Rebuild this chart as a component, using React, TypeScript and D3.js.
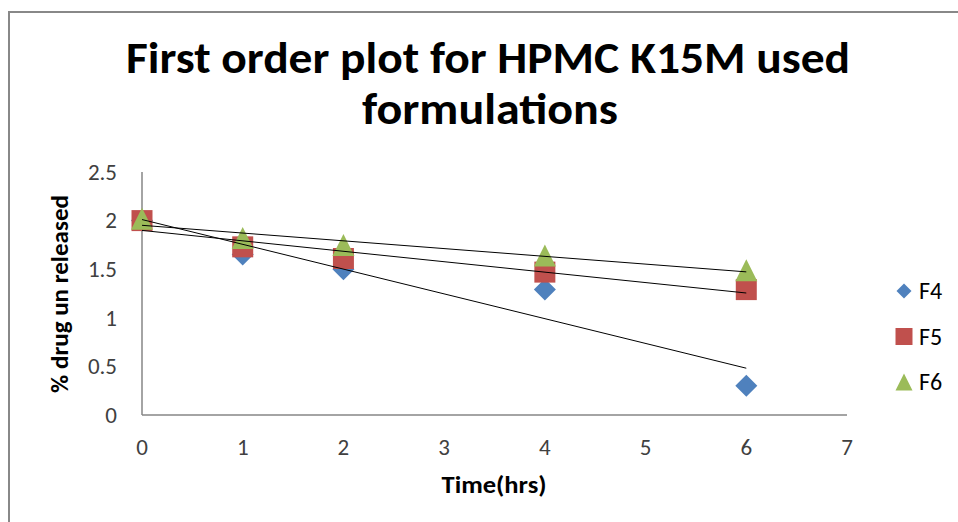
import React from "react";
import * as d3 from "d3";

const times = [0, 1, 2, 4, 6];
const seriesNames = ["F4", "F5", "F6"];
const f4Values = [2.0, 1.65, 1.5, 1.29, 0.3];
const f5Values = [2.0, 1.73, 1.61, 1.47, 1.29];
const f6Values = [2.02, 1.82, 1.75, 1.64, 1.49];
const xTicks = [0, 1, 2, 3, 4, 5, 6, 7];
const yTicks = [0, 0.5, 1, 1.5, 2, 2.5];
const titleLines = ["First order plot for HPMC K15M used", "formulations"];
const xTitle = "Time(hrs)";
const yTitle = "% drug un released";

const colors = ["#4F81BD", "#C0504D", "#9BBB59"];

const W = 958;
const H = 522;
const plot = { left: 142, right: 847, top: 172, bottom: 415 };

// least-squares linear fit, as used for the trendlines
function linearFit(xs: number[], ys: number[]) {
  const mx = d3.mean(xs)!;
  const my = d3.mean(ys)!;
  let sxy = 0;
  let sxx = 0;
  xs.forEach((x, i) => {
    sxy += (x - mx) * (ys[i] - my);
    sxx += (x - mx) * (x - mx);
  });
  const slope = sxy / sxx;
  return { slope, intercept: my - slope * mx };
}

// marker outline for series i with the given width (px)
function markerPath(i: number, w: number) {
  const h = w / 2;
  if (i === 0) return `M0,${-h}L${h},0L0,${h}L${-h},0Z`;
  if (i === 1) return `M${-h},${-h}H${h}V${h}H${-h}Z`;
  return `M0,${-h}L${h},${h}H${-h}Z`;
}

export default function App() {
  const x = d3.scaleLinear().domain([0, 7]).range([plot.left, plot.right]);
  const y = d3.scaleLinear().domain([0, 2.5]).range([plot.bottom, plot.top]);
  const allSeries = [f4Values, f5Values, f6Values];
  const font = "Carlito, 'Open Sans', 'Liberation Sans', sans-serif";

  const markerSize = [22, 21, 22];
  const legendSize = [15, 17, 17];

  return (
    <svg
      width={W}
      height={H}
      style={{ position: "absolute", left: 0, top: 0, background: "#fff" }}
      fontFamily={font}
    >
      <rect x={0} y={0} width={W} height={H} fill="#fff" />
      {/* chart frame */}
      <path d={`M9,${H + 5} V12 H${W + 5}`} fill="none" stroke="#888" strokeWidth={2} />

      {/* title */}
      <text x={488} y={73} textAnchor="middle" fontWeight="bold" fontSize={44} fill="#000"
        textLength={724} lengthAdjust="spacingAndGlyphs">
        {titleLines[0]}
      </text>
      <text x={490} y={124} textAnchor="middle" fontWeight="bold" fontSize={44} fill="#000"
        textLength={256} lengthAdjust="spacingAndGlyphs">
        {titleLines[1]}
      </text>

      {/* axes */}
      <line x1={plot.left} x2={plot.left} y1={plot.top} y2={plot.bottom} stroke="#868686" strokeWidth={1.5} />
      <line x1={plot.left} x2={plot.right} y1={plot.bottom} y2={plot.bottom} stroke="#868686" strokeWidth={1.5} />

      {yTicks.map((t) => (
        <text key={`y${t}`} x={117} y={y(t)} dy="0.34em" textAnchor="end" fontSize={23} fill="#404040">
          {t}
        </text>
      ))}
      {xTicks.map((t) => (
        <text key={`x${t}`} x={x(t)} y={455} textAnchor="middle" fontSize={23} fill="#404040">
          {t}
        </text>
      ))}

      <text x={494} y={493} textAnchor="middle" fontWeight="bold" fontSize={25} fill="#000"
        textLength={105} lengthAdjust="spacingAndGlyphs">
        {xTitle}
      </text>
      <text
        transform={`translate(68,294) rotate(-90)`}
        textAnchor="middle"
        fontWeight="bold"
        fontSize={25}
        fill="#000"
      >
        {yTitle}
      </text>

      {/* markers */}
      {allSeries.map((vals, si) =>
        vals.map((v, i) => (
          <path
            key={`m${si}-${i}`}
            d={markerPath(si, markerSize[si])}
            transform={`translate(${x(times[i])},${y(v)})`}
            fill={colors[si]}
          />
        ))
      )}

      {/* linear trendlines */}
      {allSeries.map((vals, si) => {
        const { slope, intercept } = linearFit(times, vals);
        const x0 = d3.min(times)!;
        const x1 = d3.max(times)!;
        return (
          <line
            key={`t${si}`}
            x1={x(x0)}
            y1={y(intercept + slope * x0)}
            x2={x(x1)}
            y2={y(intercept + slope * x1)}
            stroke="#000"
            strokeWidth={1}
          />
        );
      })}

      {/* legend */}
      {seriesNames.map((name, i) => (
        <g key={name} transform={`translate(904,${291 + i * 45.5})`}>
          <path d={markerPath(i, legendSize[i])} fill={colors[i]} />
          <text x={15} y={0} dy="0.34em" fontSize={24} fill="#000">
            {name}
          </text>
        </g>
      ))}
    </svg>
  );
}
